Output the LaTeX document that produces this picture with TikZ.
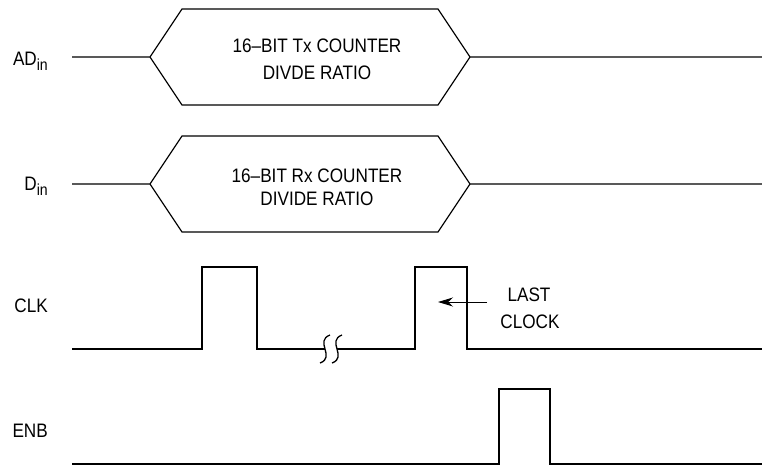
\documentclass[tikz,border=0pt]{standalone}
\usepackage{fontspec}
\setmainfont{Liberation Sans}[FakeStretch=0.88]
\usetikzlibrary{arrows.meta}
\newcommand{\subin}{\raisebox{-5pt}{\fontsize{16}{16}\selectfont in}}
\tikzset{
  sig/.style={black, line width=1.2pt},
  lbl/.style={anchor=base east, inner sep=0pt},
  txt/.style={anchor=base, inner sep=0pt}
}

\begin{document}
\begin{tikzpicture}[x=1pt,y=-1pt,font=\fontsize{19.5}{22}\selectfont]
      \useasboundingbox (0,0) rectangle (762,469);

      \node[lbl] (adin) at (48,65) {AD\subin};
      \draw[sig] (72,57) -- (150,57) -- (182,9) -- (438,9) -- (470,57) -- (762,57);
      \draw[sig] (150,57) -- (182,105) -- (438,105) -- (470,57);
      \node[txt] (txcnt) at (317,52) {16–BIT Tx COUNTER};
      \node[txt] (txdiv) at (317,79) {DIVDE RATIO};

      \node[lbl] (din) at (48,190) {D\subin};
      \draw[sig] (72,184) -- (150,184) -- (182,136) -- (438,136) -- (470,184) -- (762,184);
      \draw[sig] (150,184) -- (182,232) -- (438,232) -- (470,184);
      \node[txt] (rxcnt) at (317,182) {16–BIT Rx COUNTER};
      \node[txt] (rxdiv) at (317,205) {DIVIDE RATIO};

      \node[lbl] (clk) at (48,312) {CLK};
      \draw[sig] (72,349) -- (202,349) -- (202,267) -- (257,267) -- (257,349) -- (325,349);
      \draw[sig] (337,349) -- (415,349) -- (415,267) -- (467,267) -- (467,349) -- (762,349);
      \draw[sig, line width=1.3pt] (330,335) .. controls (314,341) and (336,357) .. (320,363);
      \draw[sig, line width=1.3pt] (342,335) .. controls (326,341) and (348,357) .. (332,363);

      \node[txt] (last) at (529,301) {LAST};
      \node[txt] (clock) at (530,328) {CLOCK};
      \coordinate (arrs) at (487,302);
      \coordinate (arre) at (438,302);
      \draw[line width=0.9pt, -{Stealth[length=15pt,width=9pt]}] (arrs) -- (arre);

      \node[lbl] (enb) at (48,437) {ENB};
      \draw[sig] (72,464) -- (499,464) -- (499,389) -- (550,389) -- (550,464) -- (762,464);
    \end{tikzpicture}
\end{document}
